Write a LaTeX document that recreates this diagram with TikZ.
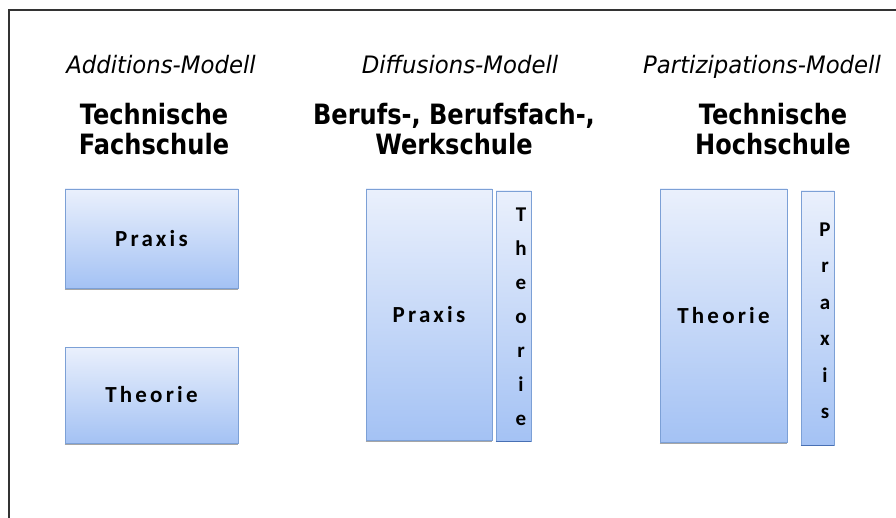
\documentclass[tikz,border=0pt]{standalone}
\usepackage{fontspec}
\newfontfamily\headfont[FakeStretch=0.86]{DejaVu Sans}
\newfontfamily\modelfont[FakeStretch=0.95]{DejaVu Sans}
\newfontfamily\labelfont[LetterSpace=14]{Carlito}

\definecolor{boxtop}{RGB}{234,240,252}
\definecolor{boxbottom}{RGB}{164,194,244}
\definecolor{boxline}{RGB}{124,160,214}
\definecolor{boxshadow}{RGB}{72,112,180}

\tikzset{
  model/.style={font=\modelfont\itshape\fontsize{24}{28}\selectfont, anchor=base},
  school/.style={font=\headfont\bfseries\fontsize{28}{30}\selectfont, align=center},
  block/.style={draw=boxline, line width=0.8pt, top color=boxtop, bottom color=boxbottom,
    inner sep=0pt, font=\labelfont\bfseries\fontsize{23}{27}\selectfont},
  column/.style={align=center, inner sep=0pt},
}

\begin{document}
\begin{tikzpicture}[x=1pt, y=-1pt]
\useasboundingbox (0,0) rectangle (896,518);
% frame, only top and left edges inside the page
\draw [black!80, line width=2pt] (9,518) -- (9,10) -- (896,10);

% headings
\node [model] (addm) at (161,74) {Additions-Modell};
\node [model] (diffm) at (460,74) {Diffusions-Modell};
\node [model] (partm) at (762,74) {Partizipations-Modell};
\node [school] (tfs) at (154,129) {Technische\\Fachschule};
\node [school] (bbw) at (454,129) {Berufs-, Berufsfach-,\\Werkschule};
\node [school] (ths) at (773,129) {Technische\\Hochschule};

% Additions-Modell
\node [block, minimum width=173pt, minimum height=99pt] (praxA) at (151.5,238.5) {Praxis};
\node [block, minimum width=173pt, minimum height=96pt] (theoA) at (151.5,395) {Theorie};

% Diffusions-Modell
\node [block, minimum width=126pt, minimum height=251pt] (praxB) at (429,314.5) {Praxis};
\node [block, minimum width=35pt, minimum height=250pt] (theoB) at (513.5,316) {};
\node [column, font=\labelfont\bfseries\fontsize{21}{34}\selectfont] (theoBt) at (521,317)
  {T\\h\\e\\o\\r\\i\\e};

% Partizipations-Modell
\node [block, minimum width=127pt, minimum height=253pt] (theoC) at (723.5,315.5) {Theorie};
\node [block, minimum width=33pt, minimum height=254pt] (praxC) at (817.5,318) {};
\node [column, font=\labelfont\bfseries\fontsize{21}{36.5}\selectfont] (praxCt) at (825,321)
  {P\\r\\a\\x\\i\\s};

% shadows under the boxes
\draw [gray!70, line width=1.5pt] ([yshift=-1pt]praxA.south west) -- ([yshift=-1pt]praxA.south east);
\draw [gray!70, line width=1.5pt] ([yshift=-1pt]theoA.south west) -- ([yshift=-1pt]theoA.south east);
\draw [gray!70, line width=1.5pt] ([yshift=-1pt]praxB.south west) -- ([yshift=-1pt]praxB.south east);
\draw [gray!70, line width=1.5pt] ([yshift=-1pt]theoC.south west) -- ([yshift=-1pt]theoC.south east);
\draw [boxshadow, line width=1.5pt] (theoB.south west) -- (theoB.south east);
\draw [boxshadow, line width=1.5pt] (praxC.south west) -- (praxC.south east);

\end{tikzpicture}
\end{document}
